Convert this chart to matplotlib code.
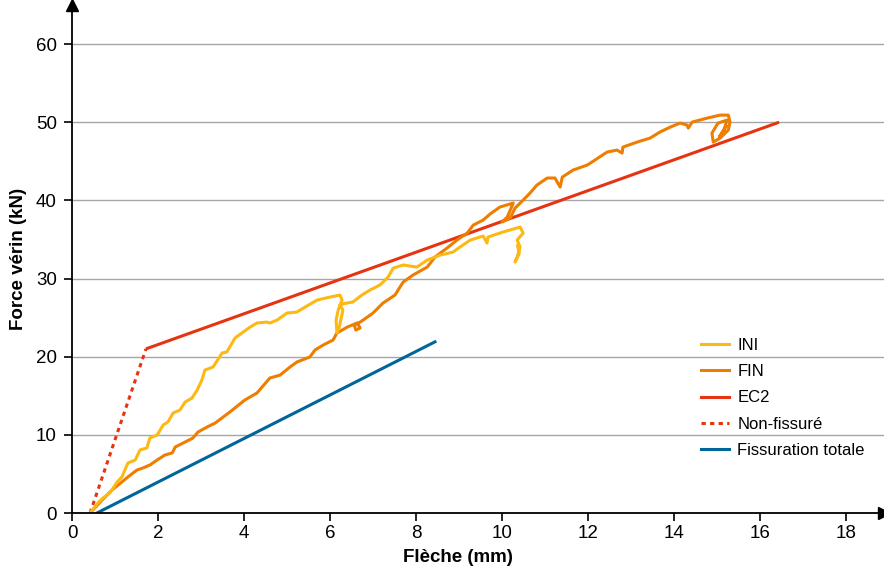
import matplotlib
matplotlib.use("Agg")
import matplotlib.pyplot as plt
from matplotlib.lines import Line2D

plt.rcParams['font.family'] = ['Liberation Sans', 'DejaVu Sans']

# ---------------- data ----------------
ini_x = [0.42, 0.60, 0.72, 0.88, 1.05, 1.16, 1.30, 1.47, 1.58, 1.74, 1.81, 1.98, 2.12, 2.23,
         2.35, 2.51, 2.63, 2.79, 2.91, 3.02, 3.09, 3.28, 3.49, 3.60, 3.79, 3.95, 4.14, 4.30,
         4.53, 4.60, 4.77, 5.00, 5.23, 5.42, 5.70, 6.00, 6.23, 6.28, 6.19, 6.14, 6.16, 6.21,
         6.26, 6.30, 6.23, 6.33, 6.53, 6.74, 6.93, 7.16, 7.35, 7.47, 7.70, 8.02, 8.26, 8.56,
         8.86, 9.02, 9.26, 9.56, 9.65, 9.67, 10.02, 10.42, 10.49, 10.35, 10.42, 10.35, 10.30,
         10.40, 10.36]
ini_y = [0.0, 1.28, 1.92, 2.56, 3.97, 4.61, 6.40, 6.78, 8.06, 8.32, 9.59, 9.98, 11.26, 11.64,
         12.79, 13.18, 14.20, 14.71, 15.73, 17.01, 18.29, 18.68, 20.47, 20.60, 22.39, 23.03,
         23.79, 24.31, 24.43, 24.31, 24.69, 25.59, 25.71, 26.35, 27.25, 27.63, 27.89, 27.25,
         25.97, 24.69, 23.03, 23.67, 24.95, 25.97, 26.60, 26.80, 27.00, 27.89, 28.53, 29.17,
         30.19, 31.34, 31.73, 31.47, 32.37, 33.00, 33.39, 34.03, 34.92, 35.44, 34.54, 35.30,
         35.95, 36.59, 35.82, 34.92, 34.03, 32.75, 32.11, 33.20, 34.20]

fin_x = [0.42, 0.70, 0.93, 1.16, 1.30, 1.51, 1.65, 1.81, 1.98, 2.16, 2.33, 2.40, 2.63, 2.81,
         2.93, 3.14, 3.33, 3.67, 4.02, 4.30, 4.60, 4.84, 5.07, 5.23, 5.53, 5.65, 5.84, 6.07,
         6.16, 6.40, 6.63, 6.70, 6.60, 6.56, 6.70, 6.77, 7.00, 7.23, 7.51, 7.70, 7.93, 8.26,
         8.44, 8.72, 8.95, 9.19, 9.33, 9.56, 9.72, 9.95, 10.26, 10.12, 10.00, 10.19, 10.30,
         10.49, 10.65, 10.81, 11.05, 11.23, 11.35, 11.40, 11.65, 11.98, 12.16, 12.44, 12.67,
         12.79, 12.81, 13.14, 13.44, 13.67, 13.91, 14.14, 14.30, 14.33, 14.42, 14.77, 15.07,
         15.26, 15.30, 15.26, 15.07, 14.91, 14.88, 15.02, 15.23, 15.16, 15.05, 15.21]
fin_y = [0.0, 1.66, 2.94, 3.97, 4.61, 5.50, 5.76, 6.14, 6.78, 7.42, 7.68, 8.44, 9.08, 9.59,
         10.36, 11.00, 11.51, 12.92, 14.46, 15.35, 17.27, 17.65, 18.68, 19.32, 19.96, 20.85,
         21.49, 22.13, 23.03, 23.79, 24.31, 23.67, 23.41, 24.05, 24.43, 24.69, 25.59, 26.86,
         27.89, 29.55, 30.45, 31.47, 32.75, 33.90, 34.92, 35.82, 36.84, 37.48, 38.25, 39.15,
         39.66, 37.87, 37.23, 37.74, 39.00, 40.04, 40.94, 41.96, 42.86, 42.86, 41.70, 42.98,
         43.88, 44.52, 45.16, 46.18, 46.44, 46.05, 46.82, 47.46, 47.97, 48.74, 49.38, 49.89,
         49.64, 49.25, 50.02, 50.53, 50.91, 50.91, 50.02, 49.00, 47.97, 47.46, 48.61, 49.89,
         50.27, 49.00, 48.10, 49.50]

ec2_x = [1.72, 16.44]
ec2_y = [21.0, 50.0]

nonfiss_x = [0.42, 1.72]
nonfiss_y = [0.0, 21.0]

fisstot_x = [0.58, 8.44]
fisstot_y = [0.0, 21.9]

x_ticks = [0, 2, 4, 6, 8, 10, 12, 14, 16, 18]
y_ticks = [0, 10, 20, 30, 40, 50, 60]
y_grid = [10, 20, 30, 40, 50, 60]

labels = ['INI', 'FIN', 'EC2', 'Non-fissuré', 'Fissuration totale']

# ---------------- styling ----------------
c_ini = '#FDB913'
c_fin = '#EF7D00'
c_ec2 = '#E63312'
c_blue = '#006699'

fig = plt.figure(figsize=(8.84, 5.76), dpi=100)
ax = fig.add_axes([72/884, 63/576, 812/884, 508/576])
ax.set_xlim(0, 18.88)
ax.set_ylim(0, 65)

for g in y_grid:
    ax.axhline(g, color='#A6A6A6', lw=1.0, zorder=1)

lw = 2.2
ax.plot(fisstot_x, fisstot_y, color=c_blue, lw=lw, zorder=3)
ax.plot(nonfiss_x, nonfiss_y, color=c_ec2, lw=lw, ls=(0, (1.4, 1.4)), zorder=3)
ax.plot(ec2_x, ec2_y, color=c_ec2, lw=lw, zorder=3, solid_capstyle='butt')
ax.plot(fin_x, fin_y, color=c_fin, lw=lw, zorder=4, solid_joinstyle='round')
ax.plot(ini_x, ini_y, color=c_ini, lw=lw, zorder=4, solid_joinstyle='round')

for s in ['top', 'right']:
    ax.spines[s].set_visible(False)
for s in ['left', 'bottom']:
    ax.spines[s].set_linewidth(1.3)
    ax.spines[s].set_color('black')
    ax.spines[s].set_zorder(5)

# arrows
ax.plot(1, 0, marker='>', color='black', ms=9, transform=ax.transAxes, clip_on=False, zorder=6)
ax.plot(0, 1, marker='^', color='black', ms=9, transform=ax.transAxes, clip_on=False, zorder=6)

ax.set_xticks(x_ticks)
ax.set_yticks(y_ticks)
ax.tick_params(axis='both', direction='out', length=6, width=1.2, labelsize=13.5, color='black')
ax.tick_params(axis='x', pad=3)
ax.tick_params(axis='y', pad=5)

ax.set_xlabel('Flèche (mm)', fontsize=13.5, fontweight='bold', labelpad=5)
ax.xaxis.label.set_x((458 - 72) / 812)
ax.set_ylabel('Force vérin (kN)', fontsize=13.5, fontweight='bold', labelpad=6)

handles = [
    Line2D([], [], color=c_ini, lw=lw),
    Line2D([], [], color=c_fin, lw=lw),
    Line2D([], [], color=c_ec2, lw=lw),
    Line2D([], [], color=c_ec2, lw=lw, ls=(0, (1.4, 1.4))),
    Line2D([], [], color=c_blue, lw=lw),
]
leg = ax.legend(handles, labels, loc='upper left', bbox_to_anchor=((694 - 72) / 812, (513 - 331) / 508),
                frameon=False, fontsize=12, handlelength=1.7, handletextpad=0.5,
                labelspacing=0.68, borderaxespad=0)

fig.savefig('out.png', dpi=100)
